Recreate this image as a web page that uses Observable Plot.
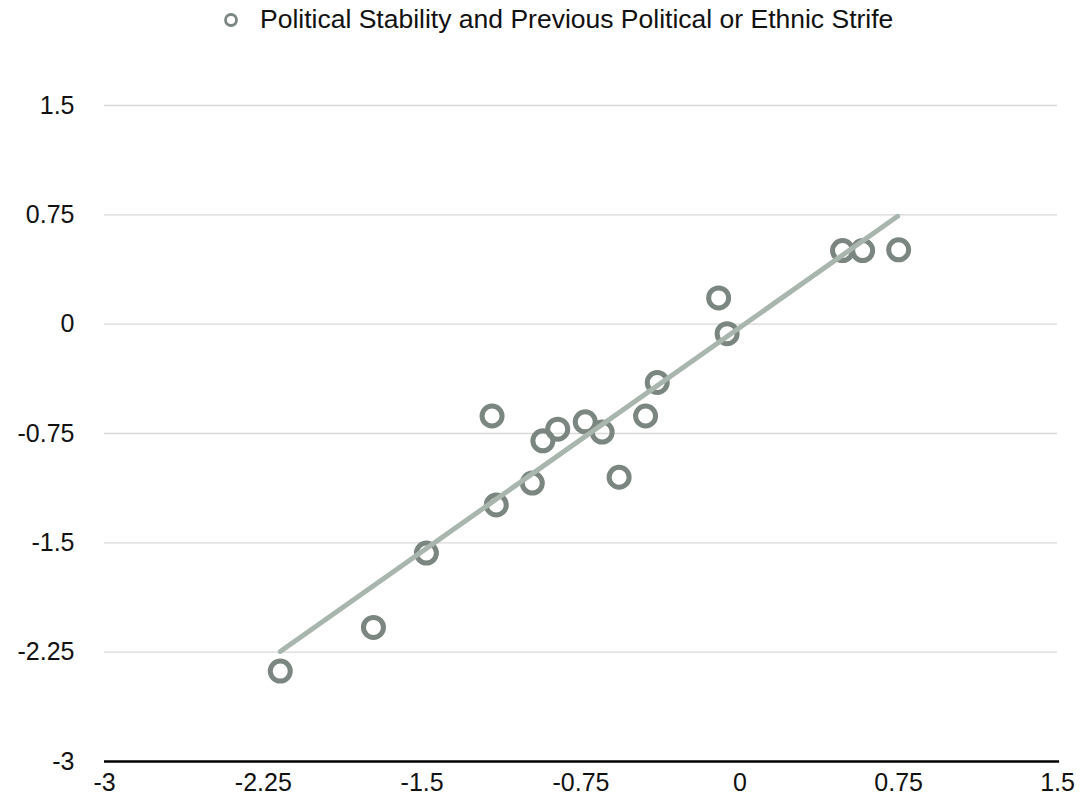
<!DOCTYPE html>
<html>
<head>
<meta charset="utf-8">
<script src="https://cdn.jsdelivr.net/npm/d3@7"></script>
<script src="https://cdn.jsdelivr.net/npm/@observablehq/plot@0.6"></script>
<style>
  body { margin: 0; background: #fff; font-family: "Liberation Sans", Arial, sans-serif; }
  #legend { height: 40px; position: relative; }
  #legend svg { position: absolute; left: 222px; top: 11px; }
  #legend span { position: absolute; left: 260px; top: 4px; font-size: 26.5px; color: #111; white-space: nowrap; }
</style>
</head>
<body>
<div id="legend">
  <svg width="18" height="18"><circle cx="9" cy="9" r="5.5" fill="none" stroke="#7b8680" stroke-width="2.8"/></svg>
  <span>Political Stability and Previous Political or Ethnic Strife</span>
</div>
<div id="chart"></div>
<script>
const seriesName = "Political Stability and Previous Political or Ethnic Strife";
const xValues = [-2.17, -1.73, -1.48, -1.17, -1.15, -0.98, -0.93, -0.86, -0.73, -0.65, -0.57, -0.445, -0.39, -0.10, -0.06, 0.485, 0.58, 0.75];
const yValues = [-2.38, -2.08, -1.57, -0.63, -1.24, -1.09, -0.80, -0.72, -0.67, -0.74, -1.05, -0.63, -0.40, 0.18, -0.065, 0.505, 0.505, 0.51];
const trendX = [-2.17, 0.745];
const trendY = [-2.245, 0.74];
const ticks = [-3, -2.25, -1.5, -0.75, 0, 0.75, 1.5];

const points = xValues.map((x, i) => ({x, y: yValues[i]}));
const trend = trendX.map((x, i) => ({x, y: trendY[i]}));

const chart = Plot.plot({
  width: 1089,
  height: 764,
  marginTop: 65,
  marginBottom: 43,
  marginLeft: 104,
  marginRight: 32,
  style: {fontFamily: "Liberation Sans, Arial, sans-serif", fontSize: "25px", color: "#111", background: "#fff", overflow: "visible"},
  x: {domain: [-3, 1.5], label: null},
  y: {domain: [-3, 1.5], label: null},
  marks: [
    Plot.gridY(ticks.filter(t => t !== -3), {stroke: "#d9d9d9", strokeOpacity: 1, strokeWidth: 1.3}),
    Plot.axisX({ticks: ticks, tickFormat: d => String(d), tickSize: 0, tickPadding: 12, fontSize: 25, label: null}),
    Plot.axisY({ticks: ticks, tickFormat: d => String(d), tickSize: 0, tickPadding: 30, fontSize: 25, label: null}),
    Plot.dot(points, {x: "x", y: "y", r: 10, stroke: "#7b8680", strokeWidth: 5, fill: "none"}),
    Plot.line(trend, {x: "x", y: "y", stroke: "#a9b6ad", strokeWidth: 5}),
    Plot.ruleY([-3], {stroke: "#000", strokeWidth: 2.5, x1: -3, x2: 1.51})
  ]
});
document.getElementById("chart").appendChild(chart);
</script>
</body>
</html>
